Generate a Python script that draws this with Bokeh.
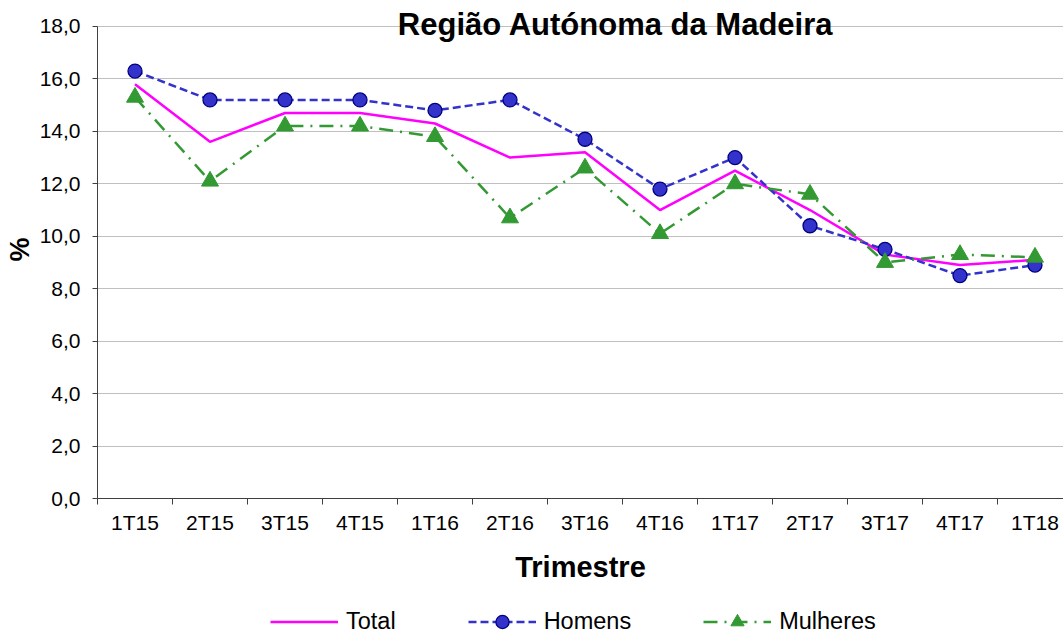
from bokeh.plotting import figure
from bokeh.layouts import column
from bokeh.models import Range1d, FixedTicker, Label, Legend, LegendItem, ColumnDataSource
from bokeh.embed import file_html
from bokeh.resources import INLINE

categories = ["1T15", "2T15", "3T15", "4T15", "1T16", "2T16", "3T16", "4T16",
              "1T17", "2T17", "3T17", "4T17", "1T18"]
total = [15.8, 13.6, 14.7, 14.7, 14.3, 13.0, 13.2, 11.0, 12.5, 11.0, 9.3, 8.9, 9.1]
homens = [16.3, 15.2, 15.2, 15.2, 14.8, 15.2, 13.7, 11.8, 13.0, 10.4, 9.5, 8.5, 8.9]
mulheres = [15.3, 12.1, 14.2, 14.2, 13.8, 10.7, 12.6, 10.1, 12.0, 11.6, 9.0, 9.3, 9.2]
y_ticks = [0, 2, 4, 6, 8, 10, 12, 14, 16, 18]
y_tick_labels = ["0,0", "2,0", "4,0", "6,0", "8,0", "10,0", "12,0", "14,0", "16,0", "18,0"]
series_names = ["Total", "Homens", "Mulheres"]
title_text = "Região Autónoma da Madeira"

FONT = "Liberation Sans"
C_TOTAL, C_H, C_H_EDGE, C_M = "#FF00FF", "#3333CC", "#000080", "#339933"

x = list(range(len(categories)))
src = ColumnDataSource(dict(x=x, total=total, homens=homens, mulheres=mulheres))


def draw_series(fig):
    r_t = fig.line("x", "total", source=src, line_color=C_TOTAL, line_width=2.5)
    r_hl = fig.line("x", "homens", source=src, line_color=C_H, line_width=2.5,
                    line_dash="8 4")
    r_hp = fig.scatter("x", "homens", source=src, marker="circle", size=14,
                       fill_color=C_H, line_color=C_H_EDGE, line_width=1.3)
    r_ml = fig.line("x", "mulheres", source=src, line_color=C_M, line_width=2.5,
                    line_dash="14 7 2 7")
    r_mp = fig.scatter("x", "mulheres", source=src, marker="triangle", size=17,
                       fill_color=C_M, line_color=C_M, line_width=1)
    return [[r_t], [r_hl, r_hp], [r_ml, r_mp]]


# main chart: frame reaches the canvas top so the title can sit inside it
p = figure(width=1063, height=593, output_backend="svg", toolbar_location=None,
           x_range=Range1d(-0.5, 12.38), y_range=Range1d(0, 18.99),
           min_border_left=97, min_border_right=0, min_border_top=0,
           min_border_bottom=95)
p.outline_line_color = None

p.xgrid.grid_line_color = None
p.ygrid.ticker = FixedTicker(ticks=y_ticks)
p.ygrid.grid_line_color = "#808080"
p.ygrid.grid_line_dash = "1 1"

p.yaxis.bounds = (0, 18)
p.yaxis.ticker = FixedTicker(ticks=y_ticks)
p.yaxis.major_label_overrides = {t: l for t, l in zip(y_ticks, y_tick_labels)}
p.yaxis.major_tick_out = 5
p.yaxis.major_tick_in = 0
p.yaxis.minor_tick_out = 0
p.yaxis.minor_tick_in = 0
p.yaxis.major_label_standoff = 12
p.yaxis.major_label_text_font = FONT
p.yaxis.major_label_text_font_size = "21px"
p.yaxis.major_label_text_color = "black"
p.yaxis.axis_line_color = "#404040"
p.yaxis.major_tick_line_color = "#404040"
p.yaxis.axis_label = "%"
p.yaxis.axis_label_text_font = FONT
p.yaxis.axis_label_text_font_size = "27px"
p.yaxis.axis_label_text_font_style = "bold"
p.yaxis.axis_label_text_color = "black"
p.yaxis.axis_label_standoff = 2

boundaries = [i + 0.5 for i in range(len(categories) - 1)] + [-0.5]
p.xaxis.ticker = FixedTicker(ticks=x, minor_ticks=boundaries)
p.xaxis.major_label_overrides = {i: c for i, c in zip(x, categories)}
p.xaxis.major_tick_out = 0
p.xaxis.major_tick_in = 0
p.xaxis.minor_tick_out = 6
p.xaxis.minor_tick_in = 0
p.xaxis.minor_tick_line_color = "#404040"
p.xaxis.axis_line_color = "#404040"
p.xaxis.major_label_standoff = 6
p.xaxis.major_label_text_font = FONT
p.xaxis.major_label_text_font_size = "21px"
p.xaxis.major_label_text_color = "black"
p.xaxis.axis_label = "Trimestre"
p.xaxis.axis_label_text_font = FONT
p.xaxis.axis_label_text_font_size = "29px"
p.xaxis.axis_label_text_font_style = "bold"
p.xaxis.axis_label_text_color = "black"
p.xaxis.axis_label_standoff = 14

draw_series(p)

p.add_layout(Label(x=6.41, y=18, y_offset=2, text=title_text,
                   text_font=FONT, text_font_size="31px", text_font_style="bold",
                   text_align="center", text_baseline="alphabetic",
                   text_color="black"))

# legend strip below the chart (its series are drawn out of view; only the legend shows)
q = figure(width=1063, height=40, output_backend="svg", toolbar_location=None,
           x_axis_type=None, y_axis_type=None,
           x_range=Range1d(0, 1), y_range=Range1d(100, 101),
           min_border_left=0, min_border_right=0, min_border_top=0, min_border_bottom=0)
q.outline_line_color = None
q.grid.visible = False
groups = draw_series(q)

legend = Legend(items=[LegendItem(label=n, renderers=g) for n, g in zip(series_names, groups)],
                orientation="horizontal", location=(173, -5),
                label_text_font=FONT, label_text_font_size="23.5px", label_text_color="black",
                glyph_width=68, glyph_height=33, label_standoff=8, spacing=72,
                border_line_color=None, background_fill_alpha=0, padding=0, margin=0)
q.add_layout(legend)

layout = column(p, q, spacing=0)
open("out.html", "w").write(file_html(layout, INLINE))
